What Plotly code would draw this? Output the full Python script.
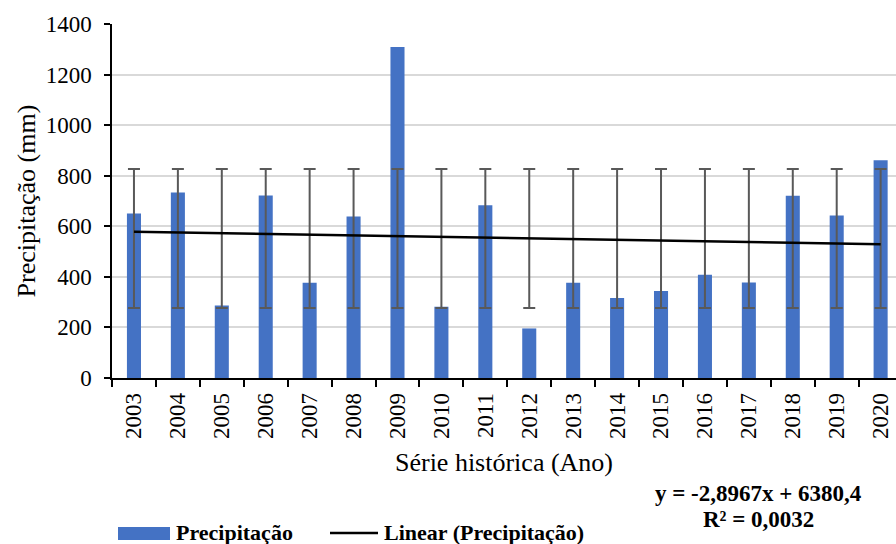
import numpy as np
import plotly.graph_objects as go

years = [str(y) for y in range(2003, 2021)]
precip = [651, 734, 287, 722, 377, 639, 1309, 282, 683, 196, 377, 316, 344, 408, 378, 721, 643, 861]
trend_slope = -2.8967
trend_intercept = 6380.4
eq_text = "y = -2,8967x + 6380,4"
r2_text = "R² = 0,0032"
y_ticks = [0, 200, 400, 600, 800, 1000, 1200, 1400]

BLUE = "#4472C4"
FONT = "Liberation Serif"

mean_val = float(np.mean(precip))
std_val = float(np.std(precip, ddof=1))

fig = go.Figure()
fig.add_trace(go.Bar(x=years, y=precip, marker=dict(color=BLUE, line=dict(width=0)),
                     width=0.32, name="Precipitação", showlegend=False))
fig.add_trace(go.Scatter(x=years, y=[mean_val] * len(years), mode="markers",
                         marker=dict(size=1, opacity=0),
                         error_y=dict(type="constant", value=std_val, color="#595959",
                                      thickness=2, width=6),
                         showlegend=False, hoverinfo="skip"))
trend_x = [years[0], years[-1]]
trend_y = [trend_slope * int(y) + trend_intercept for y in trend_x]
fig.add_trace(go.Scatter(x=trend_x, y=trend_y, mode="lines",
                         line=dict(color="black", width=2.5),
                         name="Linear (Precipitação)", showlegend=False))

PW, PH, PT = 784, 354, 378  # plot width, height, bottom pixel


def py(pix):
    return -(pix - PT) / PH


fig.update_layout(
    width=896, height=544,
    margin=dict(l=112, r=0, t=24, b=166),
    paper_bgcolor="white", plot_bgcolor="white",
    font=dict(family=FONT, size=22, color="black"),
    bargap=0.68,
    xaxis=dict(type="category", range=[-0.5, 17.35], showline=True, linecolor="black",
               linewidth=1.5, ticks="outside", ticklen=7, tickcolor="black", tickwidth=1.5,
               tickson="boundaries", tickangle=-90, showgrid=False,
               ticklabelstandoff=4,
               tickfont=dict(family=FONT, size=23),
               title=dict(text="Série histórica (Ano)", font=dict(family=FONT, size=26),
                          standoff=15)),
    yaxis=dict(range=[0, 1400], tickvals=y_ticks, showline=True, linecolor="black",
               linewidth=1.5, ticks="outside", ticklen=6, tickcolor="black", tickwidth=1.5,
               showgrid=True, gridcolor="#d9d9d9", gridwidth=1.5, zeroline=False,
               ticklabelstandoff=8, tickfont=dict(family=FONT, size=23),
               title=dict(text="Precipitação (mm)", font=dict(family=FONT, size=26),
                          standoff=3)),
    shapes=[
        dict(type="rect", xref="paper", yref="paper", x0=6 / PW, x1=58 / PW,
             y0=py(540), y1=py(527), fillcolor=BLUE, line=dict(width=0)),
        dict(type="line", xref="paper", yref="paper", x0=218 / PW, x1=266 / PW,
             y0=py(533), y1=py(533), line=dict(color="black", width=2.5)),
    ],
    annotations=[
        dict(text="<b>Precipitação</b>", xref="paper", yref="paper",
             x=62 / PW, y=py(532), xanchor="left", yanchor="middle",
             showarrow=False, font=dict(family=FONT, size=22)),
        dict(text="<b>Linear (Precipitação)</b>", xref="paper", yref="paper",
             x=270 / PW, y=py(532), xanchor="left", yanchor="middle",
             showarrow=False, font=dict(family=FONT, size=22)),
        dict(text="<b>" + eq_text + "</b>", xref="paper", yref="paper",
             x=(758 - 112) / PW, y=py(494), xanchor="center", yanchor="middle",
             showarrow=False, font=dict(family=FONT, size=23)),
        dict(text="<b>" + r2_text + "</b>", xref="paper", yref="paper",
             x=(758 - 112) / PW, y=py(519), xanchor="center", yanchor="middle",
             showarrow=False, font=dict(family=FONT, size=23)),
    ],
)

fig.write_html("out.html", config={"displayModeBar": False},
               post_script="document.body.style.margin='0px';")
